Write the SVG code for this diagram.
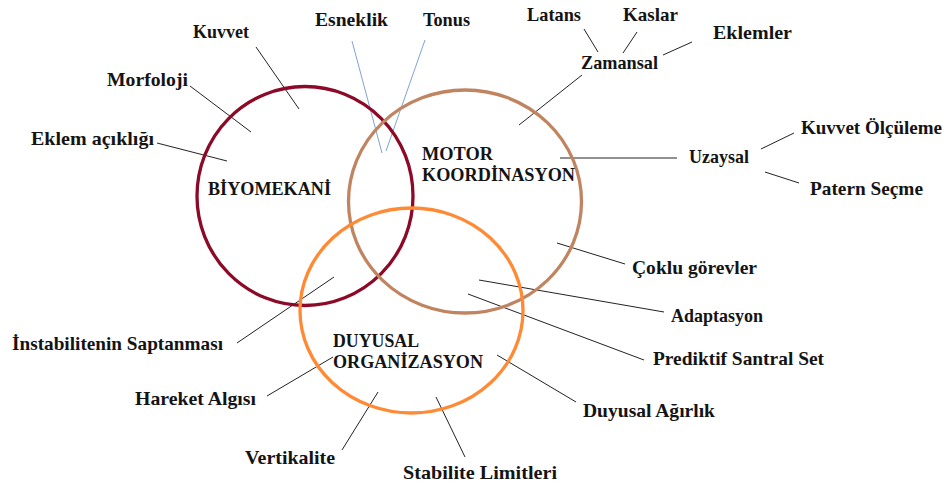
<svg xmlns="http://www.w3.org/2000/svg" width="946" height="486" viewBox="0 0 946 486">
<style>
text{font-family:"Liberation Serif","Times New Roman",serif;font-weight:bold;font-size:19.5px;fill:#141414}
.cap{font-size:18.5px}
.ln{stroke:#222;stroke-width:1;fill:none}
.bl{stroke:#7FA3D6;stroke-width:1;fill:none}
.c{fill:none;stroke-width:3.3}
</style>
<rect width="946" height="486" fill="#fff"/>
<g id="connectors">
<line class="ln" x1="256" y1="47" x2="299" y2="109"/>
<line class="ln" x1="190" y1="86" x2="251" y2="132"/>
<line class="ln" x1="157" y1="143" x2="227" y2="161"/>
<line class="bl" x1="352" y1="41" x2="382" y2="153"/>
<line class="bl" x1="425" y1="40" x2="386" y2="151"/>
<line class="ln" x1="584" y1="29" x2="598" y2="52"/>
<line class="ln" x1="637" y1="32" x2="623" y2="53"/>
<line class="ln" x1="692" y1="42" x2="663" y2="55"/>
<line class="ln" x1="582" y1="75" x2="519" y2="125"/>
<line class="ln" x1="560" y1="158" x2="677" y2="158"/>
<line class="ln" x1="794" y1="133" x2="761" y2="149"/>
<line class="ln" x1="765" y1="172" x2="799" y2="183"/>
<line class="ln" x1="557" y1="243" x2="625" y2="264"/>
<line class="ln" x1="479" y1="280" x2="664" y2="312"/>
<line class="ln" x1="468" y1="294" x2="644" y2="360"/>
<line class="ln" x1="497" y1="355" x2="576" y2="402"/>
<line class="ln" x1="436" y1="397" x2="465" y2="457"/>
<line class="ln" x1="378" y1="392" x2="342" y2="450"/>
<line class="ln" x1="333" y1="357" x2="267" y2="396"/>
<line class="ln" x1="334" y1="277" x2="237" y2="343"/>
</g>
<g id="biyomekani">
<ellipse class="c" cx="305" cy="196" rx="108" ry="109.5" stroke="#8C0A28"/>
<text class="cap" x="208" y="195" textLength="123" lengthAdjust="spacingAndGlyphs">BİYOMEKANİ</text>
</g>
<g id="motor">
<ellipse class="c" cx="465" cy="201.5" rx="116.5" ry="111.5" stroke="#C08560"/>
<text class="cap" x="422" y="160" textLength="71" lengthAdjust="spacingAndGlyphs">MOTOR</text>
<text class="cap" x="422" y="181" textLength="153" lengthAdjust="spacingAndGlyphs">KOORDİNASYON</text>
</g>
<g id="duyusal">
<ellipse class="c" cx="411.5" cy="310.5" rx="111.5" ry="102.5" stroke="#FF8A35"/>
<text class="cap" x="333" y="347" textLength="86" lengthAdjust="spacingAndGlyphs">DUYUSAL</text>
<text class="cap" x="333" y="368" textLength="150" lengthAdjust="spacingAndGlyphs">ORGANİZASYON</text>
</g>
<g id="kuvvet"><text x="193" y="38" textLength="56" lengthAdjust="spacingAndGlyphs">Kuvvet</text></g>
<g id="esneklik"><text x="315" y="26" textLength="73" lengthAdjust="spacingAndGlyphs">Esneklik</text></g>
<g id="tonus"><text x="423" y="26" textLength="47" lengthAdjust="spacingAndGlyphs">Tonus</text></g>
<g id="latans"><text x="527" y="21" textLength="54" lengthAdjust="spacingAndGlyphs">Latans</text></g>
<g id="kaslar"><text x="623" y="21" textLength="55" lengthAdjust="spacingAndGlyphs">Kaslar</text></g>
<g id="eklemler"><text x="713" y="39" textLength="79" lengthAdjust="spacingAndGlyphs">Eklemler</text></g>
<g id="zamansal"><text x="581" y="69" textLength="77" lengthAdjust="spacingAndGlyphs">Zamansal</text></g>
<g id="kuvvet-olcuileme"><text x="801" y="134" textLength="141" lengthAdjust="spacingAndGlyphs">Kuvvet Ölçüleme</text></g>
<g id="uzaysal"><text x="689" y="163" textLength="60" lengthAdjust="spacingAndGlyphs">Uzaysal</text></g>
<g id="patern-secme"><text x="810" y="195" textLength="113" lengthAdjust="spacingAndGlyphs">Patern Seçme</text></g>
<g id="morfoloji"><text x="107" y="86" textLength="81" lengthAdjust="spacingAndGlyphs">Morfoloji</text></g>
<g id="eklem-acikligi"><text x="31" y="145" textLength="123" lengthAdjust="spacingAndGlyphs">Eklem açıklığı</text></g>
<g id="coklu-gorevler"><text x="632" y="274" textLength="125" lengthAdjust="spacingAndGlyphs">Çoklu görevler</text></g>
<g id="adaptasyon"><text x="671" y="322" textLength="92" lengthAdjust="spacingAndGlyphs">Adaptasyon</text></g>
<g id="prediktif"><text x="653" y="365" textLength="171" lengthAdjust="spacingAndGlyphs">Prediktif Santral Set</text></g>
<g id="duyusal-agirlik"><text x="583" y="417" textLength="132" lengthAdjust="spacingAndGlyphs">Duyusal Ağırlık</text></g>
<g id="stabilite"><text x="403" y="479" textLength="154" lengthAdjust="spacingAndGlyphs">Stabilite Limitleri</text></g>
<g id="instabilite"><text x="12" y="350" textLength="211" lengthAdjust="spacingAndGlyphs">İnstabilitenin Saptanması</text></g>
<g id="hareket-algisi"><text x="135" y="405" textLength="121" lengthAdjust="spacingAndGlyphs">Hareket Algısı</text></g>
<g id="vertikalite"><text x="245" y="464" textLength="90" lengthAdjust="spacingAndGlyphs">Vertikalite</text></g>
</svg>
